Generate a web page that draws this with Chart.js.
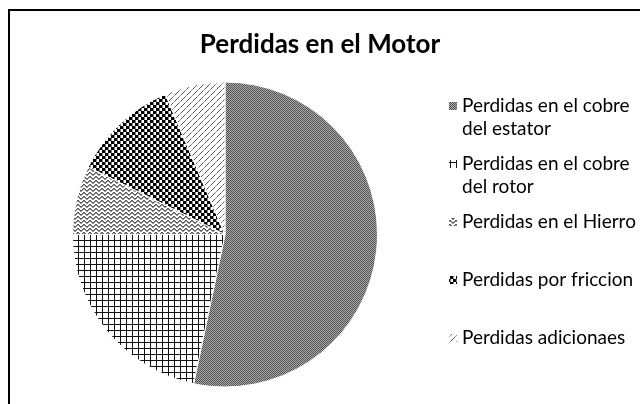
<!DOCTYPE html>
<html>
<head>
<meta charset="utf-8">
<script src="https://cdn.jsdelivr.net/npm/chart.js@4.4.1/dist/chart.umd.min.js"></script>
<style>
  html, body { margin: 0; padding: 0; background: #fff; overflow: hidden; }
  #wrap { position: relative; width: 640px; height: 404px; }
  #c { position: absolute; left: 0; top: 0; }
  #frame { position: absolute; left: 8px; top: 9px; width: 700px; height: 500px;
           border-left: 2px solid #000; border-top: 2px solid #000; pointer-events: none; }
</style>
</head>
<body>
<div id="wrap">
  <canvas id="c" width="640" height="404"></canvas>
  <div id="frame"></div>
</div>
<script>
// ---- data ----
const titleText = 'Perdidas en el Motor';
const categories = [
  'Perdidas en el cobre del estator',
  'Perdidas en el cobre del rotor',
  'Perdidas en el Hierro',
  'Perdidas por friccion',
  'Perdidas adicionaes'
];
const lossValues = [53.3, 21.7, 7.3, 11.3, 6.4];

// ---- patterns ----
function makePattern(w, h, painter) {
  const cv = document.createElement('canvas');
  cv.width = w; cv.height = h;
  const g = cv.getContext('2d');
  g.fillStyle = '#fff';
  g.fillRect(0, 0, w, h);
  painter(g);
  return document.getElementById('c').getContext('2d').createPattern(cv, 'repeat');
}
function px(g, x, y, col) { g.fillStyle = col; g.fillRect(x, y, 1, 1); }

const patFine = makePattern(2, 2, g => {
  px(g, 0, 0, '#555'); px(g, 1, 1, '#555');
  px(g, 1, 0, '#a8a8a8'); px(g, 0, 1, '#a8a8a8');
});
const patGrid = makePattern(6, 6, g => {
  g.fillStyle = '#111'; g.fillRect(0, 0, 6, 1); g.fillRect(0, 0, 1, 6);
});
const patZig = makePattern(6, 4, g => {
  const ys = [0, 1, 2, 2, 1, 0];
  ys.forEach((y, x) => { px(g, x, y, '#555'); px(g, x, y + 1, '#999'); });
});
const patCheck = makePattern(6, 6, g => {
  g.fillStyle = '#000'; g.fillRect(0, 0, 3, 3); g.fillRect(3, 3, 3, 3);
  g.fillStyle = '#888'; g.fillRect(3, 0, 1, 3); g.fillRect(0, 3, 1, 3);
});
const patDiag = makePattern(6, 6, g => {
  for (let i = 0; i < 4; i++) px(g, i + 1, 5 - i - 1, '#555');
  px(g, 0, 5, '#999'); px(g, 5, 0, '#999');
});
const patterns = [patFine, patGrid, patZig, patCheck, patDiag];

const FONT = 'Lato, "Noto Sans", sans-serif';

// ---- title drawn centred on the whole canvas ----
const pageTitle = {
  id: 'pageTitle',
  afterDraw(chart) {
    const ctx = chart.ctx;
    ctx.save();
    ctx.font = 'bold 26px ' + FONT;
    ctx.fillStyle = '#000';
    ctx.textAlign = 'center';
    ctx.textBaseline = 'middle';
    ctx.fillText(titleText, chart.width / 2, 45);
    ctx.restore();
  }
};

// ---- custom legend (wrapped labels) ----
const sideLegend = {
  id: 'sideLegend',
  afterDraw(chart) {
    const ctx = chart.ctx;
    const labels = chart.data.labels;
    const fills = chart.data.datasets[0].backgroundColor;
    const textX = 462, boxX = 449, firstY = 106, step = 58, lineH = 23;
    const maxW = chart.width - textX;
    ctx.save();
    ctx.font = '19px ' + FONT;
    ctx.textBaseline = 'middle';
    labels.forEach((lab, i) => {
      const words = lab.split(' ');
      const lines = [];
      let cur = '';
      words.forEach(w => {
        const t = cur ? cur + ' ' + w : w;
        if (ctx.measureText(t).width > maxW && cur) { lines.push(cur); cur = w; }
        else cur = t;
      });
      if (cur) lines.push(cur);
      const y0 = firstY + i * step;
      ctx.fillStyle = fills[i];
      ctx.fillRect(boxX, y0 - 4, 8, 8);
      ctx.fillStyle = '#000';
      lines.forEach((ln, k) => ctx.fillText(ln, textX, y0 + k * lineH));
    });
    ctx.restore();
  }
};

new Chart(document.getElementById('c'), {
  type: 'pie',
  data: {
    labels: categories,
    datasets: [{
      data: lossValues,
      backgroundColor: patterns,
      borderColor: '#ffffff',
      borderWidth: 1
    }]
  },
  options: {
    responsive: false,
    animation: false,
    layout: { padding: { left: 72, right: 262, top: 81, bottom: 16 } },
    plugins: {
      legend: { display: false },
      tooltip: { enabled: false },
      title: { display: false }
    }
  },
  plugins: [pageTitle, sideLegend]
});
</script>
</body>
</html>
